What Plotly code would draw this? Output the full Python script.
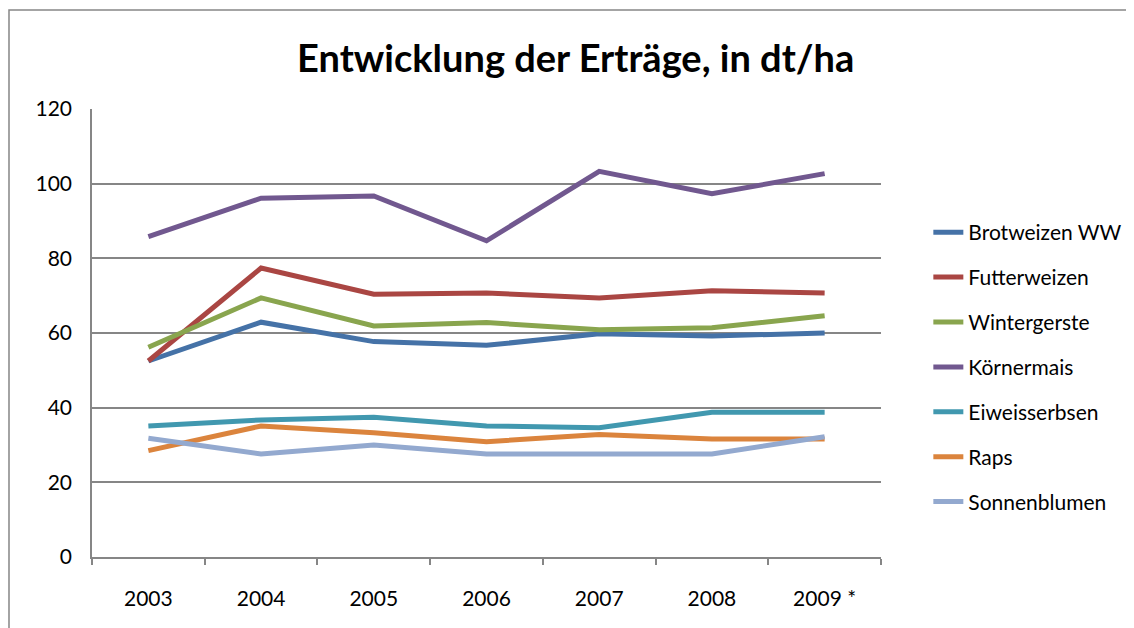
import plotly.graph_objects as go

years = ["2003", "2004", "2005", "2006", "2007", "2008", "2009 *"]
brotweizen = [52.5, 62.9, 57.7, 56.7, 59.8, 59.2, 60.0]
futterweizen = [52.5, 77.4, 70.4, 70.7, 69.4, 71.3, 70.7]
wintergerste = [56.2, 69.4, 61.9, 62.8, 60.9, 61.4, 64.6]
koernermais = [85.8, 96.1, 96.7, 84.7, 103.3, 97.3, 102.7]
eiweisserbsen = [35.1, 36.7, 37.4, 35.1, 34.6, 38.8, 38.8]
raps = [28.5, 35.1, 33.3, 30.9, 32.8, 31.6, 31.6]
sonnenblumen = [31.8, 27.6, 30.0, 27.6, 27.6, 27.6, 32.2]

series = [
    ("Brotweizen WW", brotweizen, "#4572A7"),
    ("Futterweizen", futterweizen, "#AA4643"),
    ("Wintergerste", wintergerste, "#89A54E"),
    ("Körnermais", koernermais, "#71588F"),
    ("Eiweisserbsen", eiweisserbsen, "#4198AF"),
    ("Raps", raps, "#DB843D"),
    ("Sonnenblumen", sonnenblumen, "#93A9CF"),
]

fig = go.Figure()
for i, (name, vals, color) in enumerate(series):
    fig.add_trace(go.Scatter(
        x=years, y=vals, name=name, mode="lines",
        line=dict(color=color, width=5),
        legendgroup=f"g{i}",
    ))

font_family = "Lato, Carlito, 'Open Sans', sans-serif"
fig.update_layout(
    width=1134, height=628,
    paper_bgcolor="white", plot_bgcolor="white",
    margin=dict(l=84, r=261, t=101, b=79),
    title=dict(text="<b>Entwicklung der Erträge, in dt/ha</b>", x=0.613, xanchor="center",
               xref="paper", y=0.92, yanchor="middle",
               font=dict(family=font_family, size=38, color="black")),
    font=dict(family=font_family, size=21, color="black"),
    showlegend=True,
    legend=dict(x=1.06, xanchor="left", y=0.77, yanchor="top",
                font=dict(size=21, color="black"), tracegroupgap=14.6,
                itemwidth=30, bgcolor="rgba(0,0,0,0)"),
    xaxis=dict(type="category", tickson="boundaries", ticks="outside", ticklen=6,
               tickcolor="#868686", tickwidth=1.5,
               showline=True, linecolor="#868686", linewidth=1.5,
               showgrid=False, ticklabelstandoff=22,
               range=[-0.5, 6.5], fixedrange=True),
    yaxis=dict(range=[0, 120], dtick=20, showgrid=True, gridcolor="#868686", gridwidth=1.5,
               showline=True, linecolor="#868686", linewidth=1.5,
               ticks="", ticklabelstandoff=14, zeroline=False),
    shapes=[dict(type="rect", xref="paper", yref="paper", x0=-0.1052, x1=1.6,
                 y0=-0.6, y1=1.221, line=dict(color="#868686", width=1.5),
                 fillcolor="rgba(0,0,0,0)", layer="below")],
)

fig.write_html("out.html")
